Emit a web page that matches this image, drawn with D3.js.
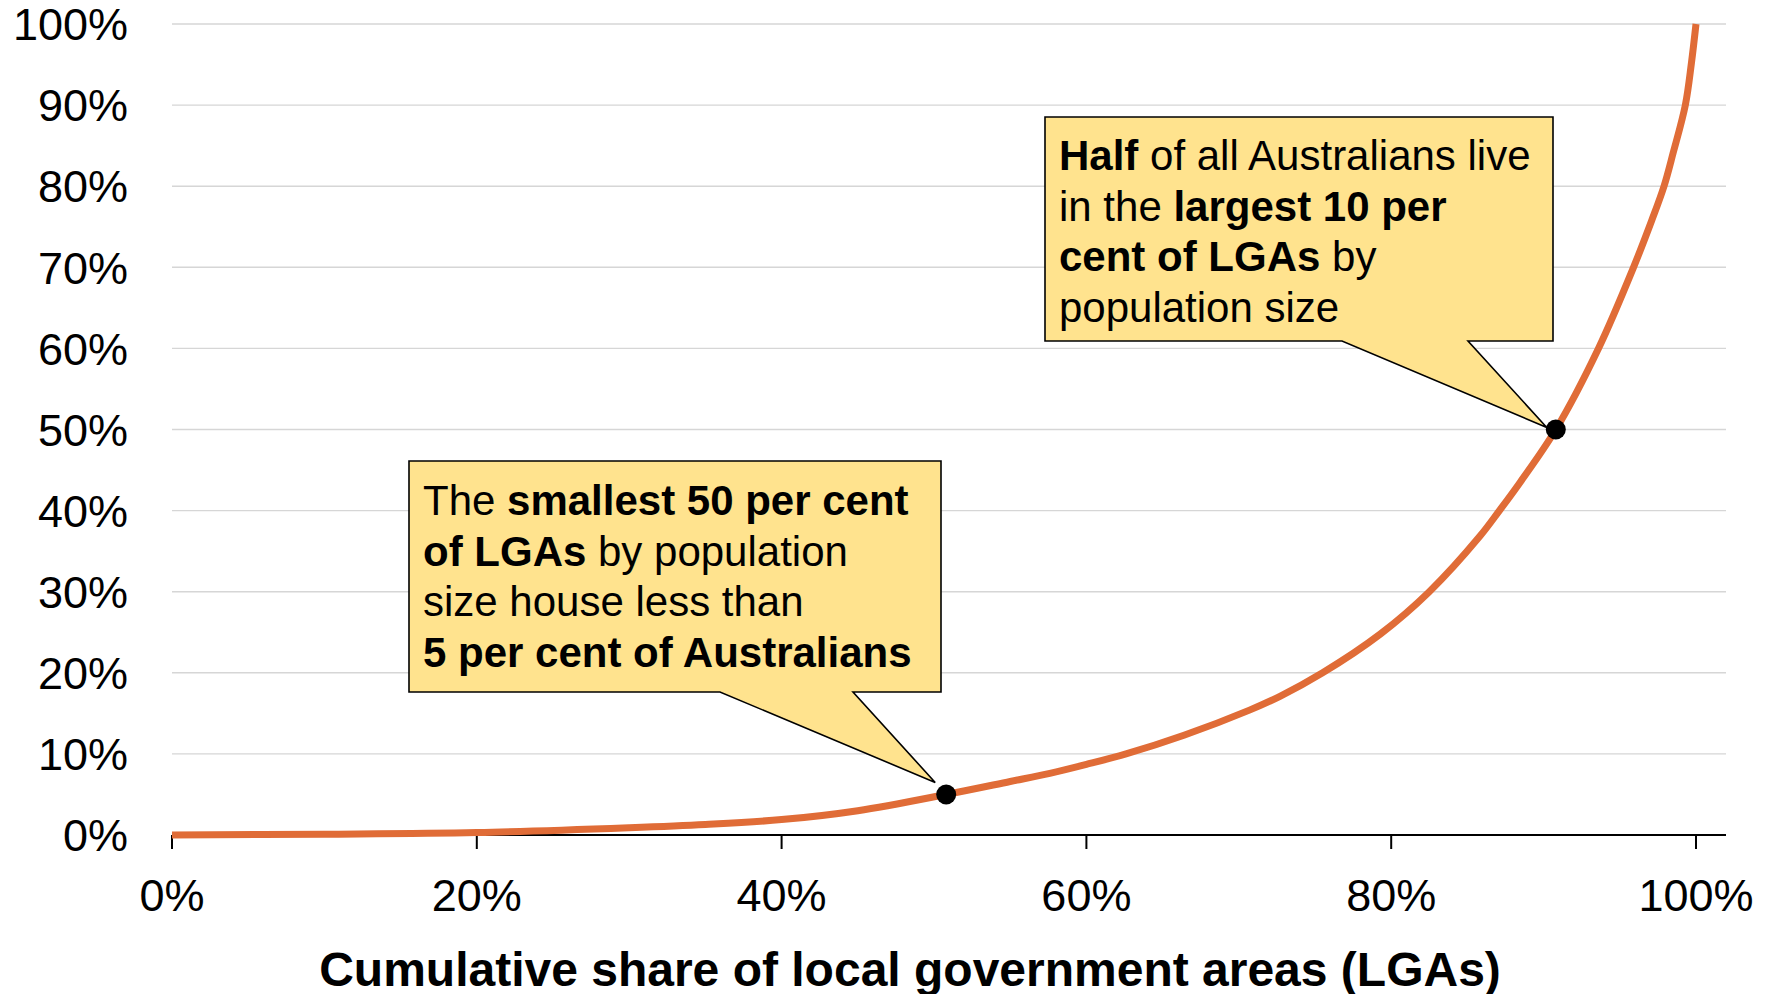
<!DOCTYPE html>
<html>
<head>
<meta charset="utf-8">
<script src="https://cdn.jsdelivr.net/npm/d3@7"></script>
<style>
  body { margin: 0; background: #fff; }
  text { font-family: "Liberation Sans", Arial, sans-serif; fill: #000; }
</style>
</head>
<body>
<div id="chart"></div>
<script>
// cumulative share of LGAs (x) vs cumulative share of population (y), in per cent
var lgaShare = [0, 10, 20, 30, 35, 40, 45, 50.8, 55, 57.6, 60, 62.6, 66.4, 70.7, 72.7, 75.5, 79.3, 82.5, 85.8, 87.1, 88.5, 90.8, 93.6, 95.9, 97.1, 97.9, 98.5, 99.3, 99.7, 100];
var popShare = [0, 0.1, 0.3, 0.9, 1.3, 1.9, 3.0, 5.0, 6.6, 7.6, 8.7, 10, 12.3, 15.4, 17.1, 20, 24.8, 30, 36.8, 40, 43.6, 50, 60, 70, 75.8, 80, 84.1, 90, 95.2, 100];

var xTicks = [0, 20, 40, 60, 80, 100];
var yTicks = [0, 10, 20, 30, 40, 50, 60, 70, 80, 90, 100];

// highlighted points
var markX = [50.8, 90.8];
var markY = [5, 50];

var xTitle = "Cumulative share of local government areas (LGAs)";

var note1 = [
  [["Half", true], [" of all Australians live", false]],
  [["in the ", false], ["largest 10 per", true]],
  [["cent of LGAs", true], [" by", false]],
  [["population size", false]]
];
var note2 = [
  [["The ", false], ["smallest 50 per cent", true]],
  [["of LGAs", true], [" by population", false]],
  [["size house less than", false]],
  [["5 per cent of Australians", true]]
];

var width = 1771, height = 994;
var x = d3.scaleLinear().domain([0, 100]).range([172, 1696]);
var y = d3.scaleLinear().domain([0, 100]).range([835, 24]);

var svg = d3.select('#chart').append('svg')
    .attr('width', width)
    .attr('height', height);

// gridlines
svg.append('g')
    .selectAll('line')
    .data(yTicks.slice(1))
    .enter().append('line')
    .attr('x1', 172).attr('x2', 1726)
    .attr('y1', function(d) { return y(d); })
    .attr('y2', function(d) { return y(d); })
    .attr('stroke', '#d6d6d6')
    .attr('stroke-width', 1.4);

// y labels
svg.append('g')
    .selectAll('text')
    .data(yTicks)
    .enter().append('text')
    .attr('x', 128)
    .attr('y', function(d) { return y(d); })
    .attr('dy', '0.36em')
    .attr('text-anchor', 'end')
    .style('font-size', '45px')
    .text(function(d) { return d + '%'; });

// x axis
svg.append('line')
    .attr('x1', 172).attr('x2', 1726)
    .attr('y1', y(0)).attr('y2', y(0))
    .attr('stroke', '#000')
    .attr('stroke-width', 2);

var xg = svg.append('g');
xg.selectAll('line')
    .data(xTicks)
    .enter().append('line')
    .attr('x1', function(d) { return x(d); })
    .attr('x2', function(d) { return x(d); })
    .attr('y1', y(0)).attr('y2', y(0) + 14)
    .attr('stroke', '#000')
    .attr('stroke-width', 2);
xg.selectAll('text')
    .data(xTicks)
    .enter().append('text')
    .attr('x', function(d) { return x(d); })
    .attr('y', 911)
    .attr('text-anchor', 'middle')
    .style('font-size', '45px')
    .text(function(d) { return d + '%'; });

svg.append('text')
    .attr('x', 910)
    .attr('y', 986)
    .attr('text-anchor', 'middle')
    .style('font-size', '48px')
    .style('font-weight', 'bold')
    .text(xTitle);

// the curve
var pts = lgaShare.map(function(d, i) { return [d, popShare[i]]; });
var line = d3.line()
    .x(function(d) { return x(d[0]); })
    .y(function(d) { return y(d[1]); })
    .curve(d3.curveCatmullRom.alpha(0.5));

svg.append('path')
    .datum(pts)
    .attr('d', line)
    .attr('fill', 'none')
    .attr('stroke', '#e06c37')
    .attr('stroke-width', 7)
    .attr('stroke-linejoin', 'round');

// callouts
function callout(box, baseL, baseR, tip, lines, tx, ty0) {
  var p = d3.path();
  p.moveTo(box[0], box[1]);
  p.lineTo(box[2], box[1]);
  p.lineTo(box[2], box[3]);
  p.lineTo(baseR, box[3]);
  p.lineTo(tip[0], tip[1]);
  p.lineTo(baseL, box[3]);
  p.lineTo(box[0], box[3]);
  p.closePath();
  svg.append('path')
      .attr('d', p.toString())
      .attr('fill', '#ffe38e')
      .attr('stroke', '#000')
      .attr('stroke-width', 1.6)
      .attr('stroke-linejoin', 'miter');

  var t = svg.append('text')
      .style('font-size', '42px');
  lines.forEach(function(ln, i) {
    ln.forEach(function(seg, j) {
      var s = t.append('tspan')
          .style('font-weight', seg[1] ? 'bold' : 'normal')
          .text(seg[0]);
      if (j === 0) s.attr('x', tx).attr('y', ty0 + i * 50.7);
    });
  });
}

callout([1045, 117, 1553, 341], 1342, 1468,
        [x(markX[1]) - 9, y(markY[1]) - 2], note1, 1059, 170);
callout([409, 461, 941, 692], 720, 853,
        [x(markX[0]) - 11, y(markY[0]) - 12], note2, 423, 515);

// marker dots
svg.append('g')
    .selectAll('circle')
    .data(markX)
    .enter().append('circle')
    .attr('cx', function(d) { return x(d); })
    .attr('cy', function(d, i) { return y(markY[i]); })
    .attr('r', 10)
    .attr('fill', '#000');
</script>
</body>
</html>
